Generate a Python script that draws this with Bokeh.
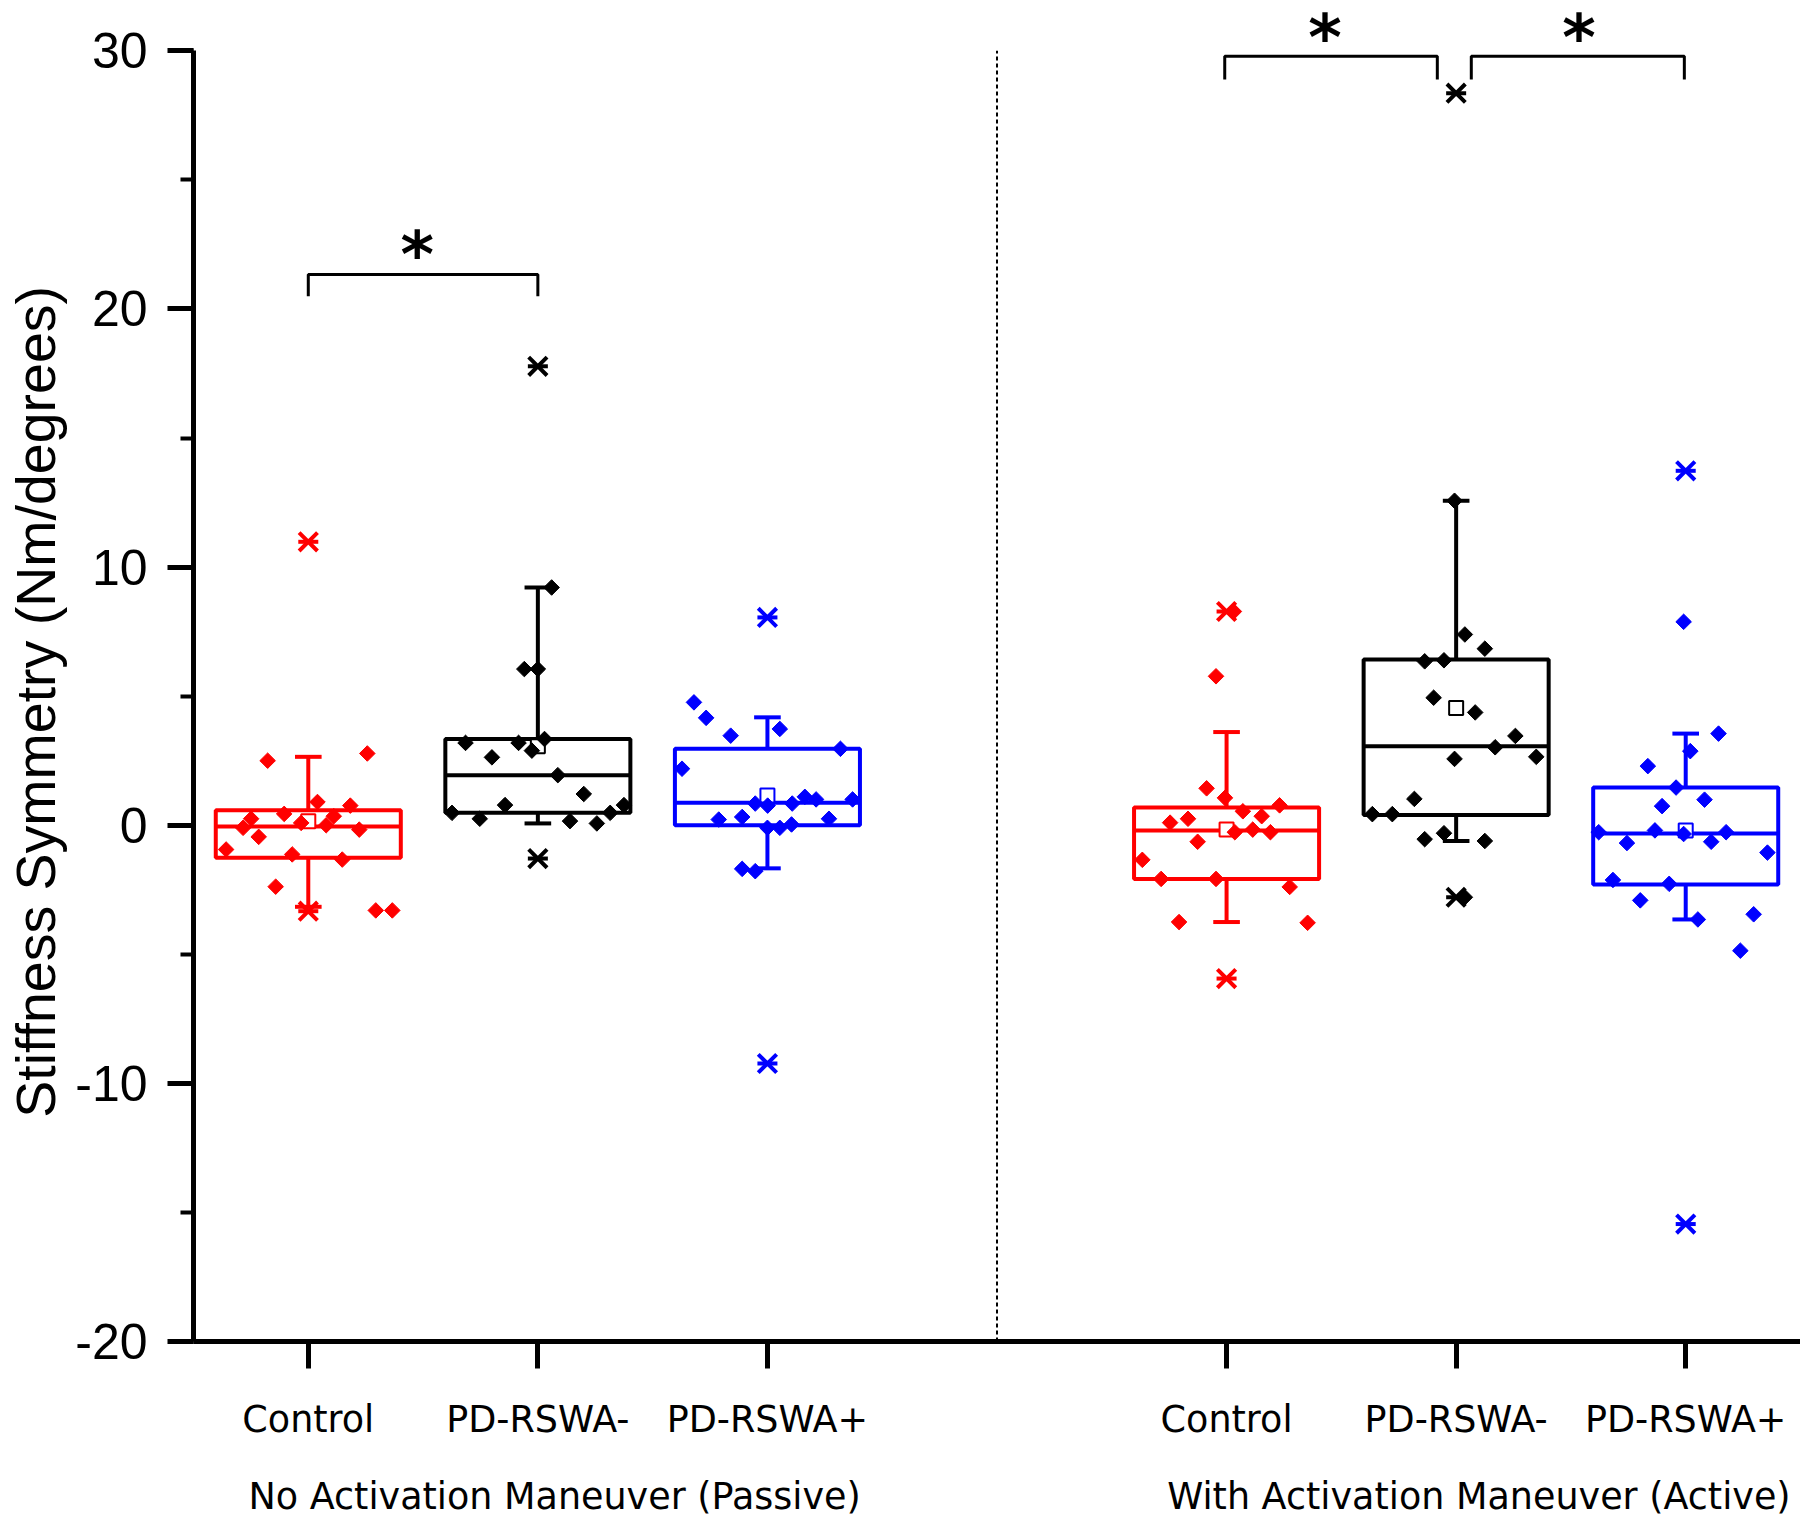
import numpy as np
from bokeh.plotting import figure
from bokeh.models import (Range1d, LinearAxis, FixedTicker, SingleIntervalTicker,
                          Label, ColumnDataSource)
from bokeh.embed import file_html
from bokeh.resources import INLINE

# ---------------- data ----------------
positions = [1, 2, 3, 5, 6, 7]
tick_labels = ["Control", "PD-RSWA-", "PD-RSWA+", "Control", "PD-RSWA-", "PD-RSWA+"]
y_ticks = [-20, -10, 0, 10, 20, 30]
y_tick_labels = ["-20", "-10", "0", "10", "20", "30"]
y_title = "Stiffness Symmetry (Nm/degrees)"
group_titles = ["No Activation Maneuver (Passive)", "With Activation Maneuver (Active)"]
group_title_x = [2.073, 6.099]
colors = ["#FF0000", "#000000", "#0000FF", "#FF0000", "#000000", "#0000FF"]

q1 = [-1.26, 0.48, 0.00, -2.08, 0.40, -2.30]
median = [-0.05, 1.94, 0.87, -0.20, 3.06, -0.32]
q3 = [0.58, 3.34, 2.96, 0.69, 6.42, 1.46]
whisker_lo = [-3.16, 0.07, -1.67, -3.75, -0.61, -3.65]
whisker_hi = [2.65, 9.21, 4.18, 3.61, 12.57, 3.55]
mean = [0.15, 3.06, 1.15, -0.17, 4.54, -0.20]
outlier_lo = [-3.33, -1.29, -9.23, -5.94, -2.79, -15.45]
outlier_hi = [10.98, 17.78, 8.05, 8.28, 28.36, 13.73]

# individual subjects (x = jittered category position, y = value)
pc_x = [0.823, 1.257, 1.04, 1.183, 0.751, 0.895, 1.111, 0.716, 0.969, 1.078, 1.222, 0.784,
        0.642, 0.93, 1.148, 0.858, 1.294, 1.366]
pc_y = [2.50, 2.78, 0.90, 0.76, 0.25, 0.44, 0.35, -0.10, 0.09, 0.0, -0.17, -0.45,
        -0.94, -1.13, -1.33, -2.38, -3.30, -3.30]
pn_x = [1.941, 2.0, 1.685, 1.916, 2.029, 1.974, 1.80, 2.087, 2.20, 1.857, 1.626, 1.747,
        2.14, 2.257, 2.315, 2.375, 2.06]
pn_y = [6.05, 6.05, 3.19, 3.19, 3.34, 2.89, 2.63, 1.94, 1.21, 0.78, 0.48, 0.25,
        0.16, 0.07, 0.48, 0.78, 9.21]
pp_x = [2.68, 2.733, 2.84, 3.054, 3.318, 2.628, 2.947, 3.001, 3.108, 3.163, 3.212, 3.371,
        2.788, 2.89, 3.268, 3.0, 3.054, 3.105, 2.89, 2.947]
pp_y = [4.76, 4.16, 3.47, 3.73, 2.96, 2.19, 0.84, 0.76, 0.84, 1.10, 1.0, 1.0,
        0.22, 0.32, 0.25, -0.10, -0.10, 0.03, -1.69, -1.78]
ac_x = [5.032, 4.954, 4.913, 4.993, 5.071, 5.231, 4.754, 4.832, 5.153, 5.036, 5.114, 5.191,
        4.874, 4.633, 4.715, 4.954, 5.275, 4.793, 5.353]
ac_y = [8.28, 5.77, 1.43, 1.06, 0.54, 0.77, 0.10, 0.25, 0.35, -0.27, -0.17, -0.27,
        -0.64, -1.34, -2.08, -2.08, -2.39, -3.75, -3.78]
an_x = [5.993, 6.038, 6.125, 5.863, 5.947, 5.902, 6.083, 6.258, 6.17, 5.993, 6.349, 5.818,
        5.635, 5.722, 5.947, 5.863, 6.125, 6.038]
an_y = [12.57, 7.39, 6.84, 6.35, 6.39, 4.94, 4.37, 3.46, 3.02, 2.57, 2.65, 1.02,
        0.43, 0.43, -0.31, -0.54, -0.61, -2.79]
ap_x = [6.991, 7.143, 7.02, 6.835, 6.958, 7.082, 6.897, 6.621, 6.866, 6.991, 7.176, 6.744,
        7.111, 7.356, 6.683, 6.928, 6.802, 7.053, 7.296, 7.238]
ap_y = [7.88, 3.55, 2.87, 2.29, 1.46, 0.99, 0.74, -0.27, -0.20, -0.34, -0.27, -0.69,
        -0.64, -1.06, -2.12, -2.27, -2.91, -3.65, -3.45, -4.86]

# significance brackets
bracket_x0 = [1.0, 4.992, 6.066]
bracket_x1 = [2.0, 5.918, 6.994]
bracket_top = [21.34, 29.79, 29.79]
bracket_leg = [20.49, 28.89, 28.89]
star_x = [1.475, 5.429, 6.535]
star_y = [23.52, 31.93, 31.93]

# ---------------- figure ----------------
BOX_HALF = 0.403
CAP_HALF = 0.058

p = figure(width=1800, height=1525, x_range=Range1d(0.5, 7.5), y_range=Range1d(-20, 31.95),
           output_backend="svg", toolbar_location=None,
           min_border_left=193, min_border_right=0, min_border_top=0, min_border_bottom=184)
p.outline_line_color = None
p.xgrid.visible = False
p.ygrid.visible = False
p.background_fill_color = "white"
p.border_fill_color = "white"

pos = np.array(positions, dtype=float)
src = ColumnDataSource(dict(
    pos=pos, left=pos - BOX_HALF, right=pos + BOX_HALF,
    cl=pos - CAP_HALF, cr=pos + CAP_HALF,
    q1=q1, q3=q3, med=median, wlo=whisker_lo, whi=whisker_hi, mean=mean,
    olo=outlier_lo, ohi=outlier_hi, color=colors))

# separator
p.segment(x0=[4], y0=[-20], x1=[4], y1=[30], line_color="#000000", line_width=2, line_dash="4 3")

# boxes
p.quad(left="left", right="right", bottom="q1", top="q3", source=src,
       fill_color=None, line_color="color", line_width=4)
p.segment(x0="left", x1="right", y0="med", y1="med", source=src, line_color="color", line_width=4)
p.segment(x0="pos", x1="pos", y0="q3", y1="whi", source=src, line_color="color", line_width=4)
p.segment(x0="pos", x1="pos", y0="q1", y1="wlo", source=src, line_color="color", line_width=4)
p.segment(x0="cl", x1="cr", y0="whi", y1="whi", source=src, line_color="color", line_width=4)
p.segment(x0="cl", x1="cr", y0="wlo", y1="wlo", source=src, line_color="color", line_width=4)

# mean squares
p.scatter("pos", "mean", source=src, marker="square", size=14, fill_color="white",
          line_color="color", line_width=2)

# subject points
pts = [(pc_x, pc_y, colors[0]), (pn_x, pn_y, colors[1]), (pp_x, pp_y, colors[2]),
       (ac_x, ac_y, colors[3]), (an_x, an_y, colors[4]), (ap_x, ap_y, colors[5])]
for xs, ys, c in pts:
    p.scatter(xs, ys, marker="square", angle=np.pi / 4, size=11, fill_color=c,
              line_color=c, line_width=1)

# outlier / extreme markers
for col in ["olo", "ohi"]:
    p.scatter("pos", col, source=src, marker="x", size=26, line_color="color", line_width=4)
    p.scatter("pos", col, source=src, marker="dash", size=20, line_color="color", line_width=4)

# brackets
bx = [[a, a, b, b] for a, b in zip(bracket_x0, bracket_x1)]
by = [[l, t, t, l] for l, t in zip(bracket_leg, bracket_top)]
p.multi_line(bx, by, line_color="#000000", line_width=3)
for sx, sy in zip(star_x, star_y):
    p.add_layout(Label(x=sx, y=sy, text="*", text_align="center", text_baseline="top",
                       text_font="DejaVu Sans", text_font_style="bold", text_font_size="64px",
                       text_color="#000000"))

# ---------------- axes ----------------
ya = p.yaxis[0]
ya.ticker = SingleIntervalTicker(interval=10, num_minor_ticks=2)
ya.major_label_overrides = {k: v for k, v in zip(y_ticks, y_tick_labels)}
ya.bounds = (-20, 30)
ya.axis_line_width = 5
ya.major_tick_line_width = 5
ya.minor_tick_line_width = 4
ya.major_tick_out = 26
ya.major_tick_in = 0
ya.minor_tick_out = 13
ya.minor_tick_in = 0
ya.major_label_standoff = 20
ya.major_label_text_font = "Liberation Sans"
ya.major_label_text_font_size = "50px"
ya.major_label_text_color = "#000000"
ya.axis_label = y_title + "\u00a0\u00a0\u00a0\u00a0"
ya.axis_label_text_font = "Liberation Sans"
ya.axis_label_text_font_size = "55.5px"
ya.axis_label_text_font_style = "normal"
ya.axis_label_text_color = "#000000"
ya.axis_label_standoff = 5

xa = p.xaxis[0]
xa.ticker = FixedTicker(ticks=positions, minor_ticks=[])
xa.major_label_overrides = {k: v for k, v in zip(positions, tick_labels)}
xa.axis_line_width = 5
xa.major_tick_line_width = 5
xa.minor_tick_line_color = None
xa.major_tick_out = 27
xa.major_tick_in = 0
xa.major_label_standoff = 29
xa.major_label_text_font = "DejaVu Sans"
xa.major_label_text_font_size = "36.5px"
xa.major_label_text_color = "#000000"

ga = LinearAxis(ticker=FixedTicker(ticks=group_title_x, minor_ticks=[]),
                major_label_overrides={k: v for k, v in zip(group_title_x, group_titles)},
                axis_line_color=None, major_tick_line_color=None, minor_tick_line_color=None,
                major_tick_out=0, major_tick_in=0, major_label_standoff=31,
                major_label_text_font="DejaVu Sans", major_label_text_font_size="36.5px",
                major_label_text_color="#000000")
p.add_layout(ga, "below")

open("out.html", "w").write(file_html(p, INLINE))
